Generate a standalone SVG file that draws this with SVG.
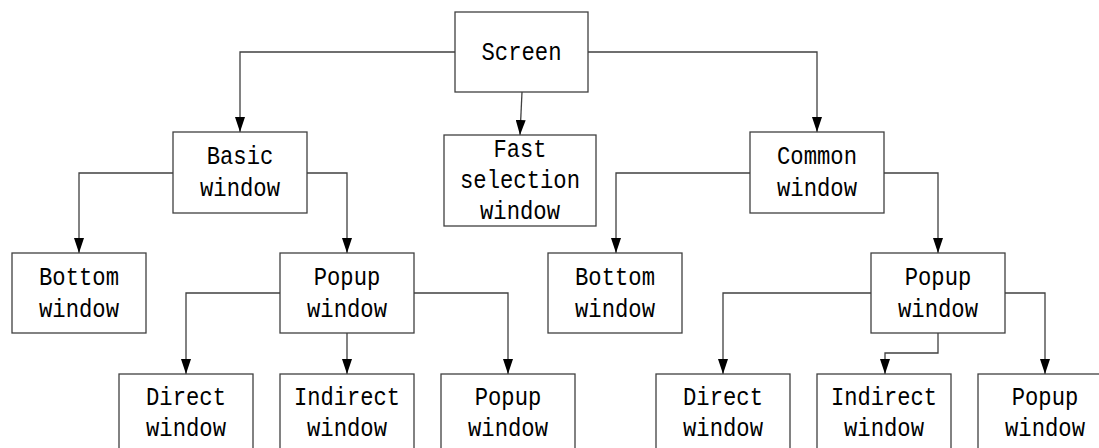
<svg xmlns="http://www.w3.org/2000/svg" width="1099" height="448" viewBox="0 0 1099 448">
<defs>
<style>
.box{fill:#fff;stroke:#404040;stroke-width:1.3}
.t{font-family:"Liberation Mono","DejaVu Sans Mono",monospace;font-size:25px;text-anchor:middle;fill:#000}
.c{fill:none;stroke:#404040;stroke-width:1.3;marker-end:url(#arr)}
</style>
<marker id="arr" viewBox="0 0 15 10" refX="15" refY="5" markerWidth="15" markerHeight="10" markerUnits="userSpaceOnUse" orient="auto">
<path d="M0,0 L15,5 L0,10 z" fill="#000"/>
</marker>
</defs>
<rect width="1099" height="448" fill="#fff"/>
<g id="connectors">
<path class="c" d="M455,52 H240 V132"/>
<path class="c" d="M522,92 L520,135"/>
<path class="c" d="M588,52 H817 V132"/>
<path class="c" d="M173,173 H79 V253"/>
<path class="c" d="M307,173 H347 V253"/>
<path class="c" d="M750,173 H616 V253"/>
<path class="c" d="M884,173 H938 V253"/>
<path class="c" d="M280,293 H186 V374"/>
<path class="c" d="M347,333 V374"/>
<path class="c" d="M414,293 H508 V374"/>
<path class="c" d="M871,293 H723 V374"/>
<path class="c" d="M938,333 V353 H885 V374"/>
<path class="c" d="M1005,293 H1045 V374"/>
</g>
<g id="screen"><rect class="box" x="455" y="12" width="133" height="80"/><text class="t" x="521.5" y="60" textLength="80" lengthAdjust="spacingAndGlyphs">Screen</text></g>
<g id="basic"><rect class="box" x="173" y="132" width="134" height="81"/><text class="t" x="240" y="164" textLength="66.5" lengthAdjust="spacingAndGlyphs">Basic</text><text class="t" x="240" y="196" textLength="80" lengthAdjust="spacingAndGlyphs">window</text></g>
<g id="fast"><rect class="box" x="444" y="135" width="152" height="91"/><text class="t" x="520" y="157" textLength="53" lengthAdjust="spacingAndGlyphs">Fast</text><text class="t" x="520" y="188" textLength="120" lengthAdjust="spacingAndGlyphs">selection</text><text class="t" x="520" y="219" textLength="80" lengthAdjust="spacingAndGlyphs">window</text></g>
<g id="common"><rect class="box" x="750" y="132" width="134" height="81"/><text class="t" x="817" y="164" textLength="80" lengthAdjust="spacingAndGlyphs">Common</text><text class="t" x="817" y="196" textLength="80" lengthAdjust="spacingAndGlyphs">window</text></g>
<g id="bottom-left"><rect class="box" x="12" y="253" width="134" height="80"/><text class="t" x="79" y="285" textLength="80" lengthAdjust="spacingAndGlyphs">Bottom</text><text class="t" x="79" y="317" textLength="80" lengthAdjust="spacingAndGlyphs">window</text></g>
<g id="popup-left"><rect class="box" x="280" y="253" width="134" height="80"/><text class="t" x="347" y="285" textLength="66.5" lengthAdjust="spacingAndGlyphs">Popup</text><text class="t" x="347" y="317" textLength="80" lengthAdjust="spacingAndGlyphs">window</text></g>
<g id="bottom-right"><rect class="box" x="548" y="253" width="134" height="80"/><text class="t" x="615" y="285" textLength="80" lengthAdjust="spacingAndGlyphs">Bottom</text><text class="t" x="615" y="317" textLength="80" lengthAdjust="spacingAndGlyphs">window</text></g>
<g id="popup-right"><rect class="box" x="871" y="253" width="134" height="80"/><text class="t" x="938" y="285" textLength="66.5" lengthAdjust="spacingAndGlyphs">Popup</text><text class="t" x="938" y="317" textLength="80" lengthAdjust="spacingAndGlyphs">window</text></g>
<g id="direct-left"><rect class="box" x="119" y="374" width="134" height="80"/><text class="t" x="186" y="405" textLength="80" lengthAdjust="spacingAndGlyphs">Direct</text><text class="t" x="186" y="436" textLength="80" lengthAdjust="spacingAndGlyphs">window</text></g>
<g id="indirect-left"><rect class="box" x="280" y="374" width="134" height="80"/><text class="t" x="347" y="405" textLength="106" lengthAdjust="spacingAndGlyphs">Indirect</text><text class="t" x="347" y="436" textLength="80" lengthAdjust="spacingAndGlyphs">window</text></g>
<g id="popup-left-2"><rect class="box" x="441" y="374" width="134" height="80"/><text class="t" x="508" y="405" textLength="66.5" lengthAdjust="spacingAndGlyphs">Popup</text><text class="t" x="508" y="436" textLength="80" lengthAdjust="spacingAndGlyphs">window</text></g>
<g id="direct-right"><rect class="box" x="656" y="374" width="134" height="80"/><text class="t" x="723" y="405" textLength="80" lengthAdjust="spacingAndGlyphs">Direct</text><text class="t" x="723" y="436" textLength="80" lengthAdjust="spacingAndGlyphs">window</text></g>
<g id="indirect-right"><rect class="box" x="817" y="374" width="134" height="80"/><text class="t" x="884" y="405" textLength="106" lengthAdjust="spacingAndGlyphs">Indirect</text><text class="t" x="884" y="436" textLength="80" lengthAdjust="spacingAndGlyphs">window</text></g>
<g id="popup-right-2"><rect class="box" x="978" y="374" width="134" height="80"/><text class="t" x="1045" y="405" textLength="66.5" lengthAdjust="spacingAndGlyphs">Popup</text><text class="t" x="1045" y="436" textLength="80" lengthAdjust="spacingAndGlyphs">window</text></g>
</svg>
